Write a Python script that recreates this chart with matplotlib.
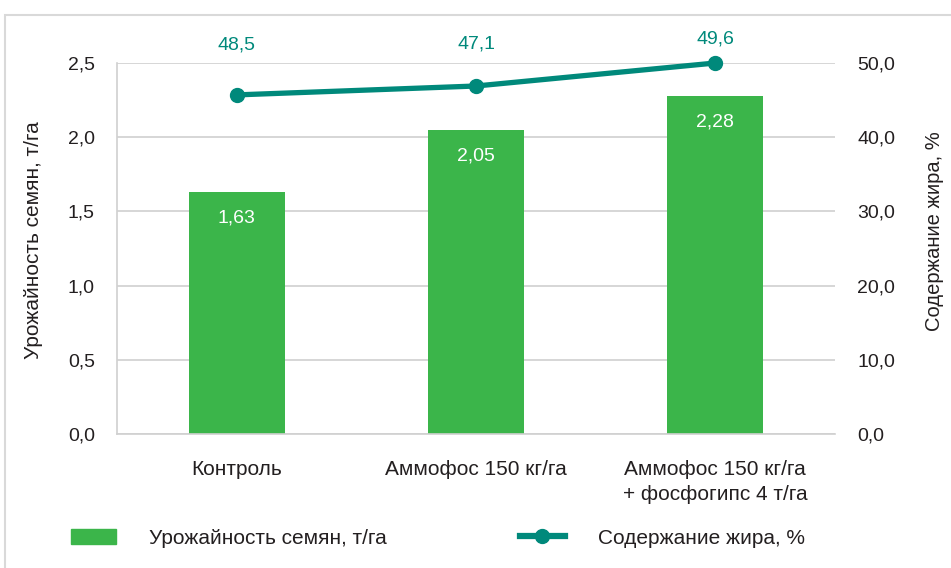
import matplotlib.pyplot as plt
from matplotlib.patches import Rectangle
from matplotlib.lines import Line2D

plt.rcParams['font.family'] = ['Liberation Sans', 'DejaVu Sans']

categories = ['Контроль', 'Аммофос 150 кг/га', 'Аммофос 150 кг/га\n+ фосфогипс 4 т/га']
yield_vals = [1.63, 2.05, 2.28]
yield_labels = ['1,63', '2,05', '2,28']
# line points as drawn in the picture (labels differ from the drawn heights)
fat_vals = [45.7, 46.9, 50.0]
fat_labels = ['48,5', '47,1', '49,6']
left_ticks = [0.0, 0.5, 1.0, 1.5, 2.0, 2.5]
right_ticks = [0, 10, 20, 30, 40, 50]

green = '#3bb54a'
teal = '#00897b'
dark = '#231f20'
grid = '#d0d0d0'

fig = plt.figure(figsize=(9.51, 5.68), dpi=100)
# outer frame
fig.add_artist(Rectangle((5/951, -0.1), 1.1, 1 - 15/568 + 0.1, transform=fig.transFigure,
                         fill=False, edgecolor='#d9d9d9', lw=1.5))

ax = fig.add_axes([117/951, 1 - 434/568, 718/951, 371/568])
x = range(len(categories))
ax.bar(x, yield_vals, width=0.4, color=green, zorder=2)
for i, (v, lab) in enumerate(zip(yield_vals, yield_labels)):
    ax.annotate(lab, (i, v), xytext=(0, -19), textcoords='offset points',
                ha='center', va='center', color='white', fontsize=14)

ax.set_xlim(-0.5, 2.5)
ax.set_ylim(0, 2.5)
ax.set_yticks(left_ticks)
ax.set_yticklabels([f'{t:.1f}'.replace('.', ',') for t in left_ticks], fontsize=14, color=dark)
ax.yaxis.grid(True, color=grid, lw=1.2, zorder=0)
ax.set_xticks(list(x))
ax.set_xticklabels(categories, fontsize=15, color=dark, va='top', linespacing=1.4)
ax.tick_params(axis='x', length=0, pad=19)
ax.tick_params(axis='y', length=0, pad=16)
for s in ['top', 'right']:
    ax.spines[s].set_visible(False)
for s in ['left', 'bottom']:
    ax.spines[s].set_color(grid)
    ax.spines[s].set_linewidth(1.2)
ax.set_ylabel('Урожайность семян, т/га', fontsize=15, color=dark)
ax.yaxis.set_label_coords(-0.103, 0.523)

ax2 = ax.twinx()
ax2.plot(x, fat_vals, color=teal, lw=3.8, marker='o', ms=10, zorder=3, clip_on=False)
offsets = [36, 30, 17]
for i, (v, lab, off) in enumerate(zip(fat_vals, fat_labels, offsets)):
    ax2.annotate(lab, (i, v), xytext=(0, off), textcoords='offset points',
                 ha='center', va='center', color=teal, fontsize=14)
ax2.set_ylim(0, 50)
ax2.set_yticks(right_ticks)
ax2.set_yticklabels([f'{t:.1f}'.replace('.', ',') for t in right_ticks], fontsize=14, color=dark)
ax2.tick_params(axis='y', length=0, pad=16)
for s in ax2.spines.values():
    s.set_visible(False)
ax2.set_ylabel('Содержание жира, %', fontsize=14.5, color=dark)
ax2.yaxis.set_label_coords(1.125, 0.547)

handles = [Rectangle((0, 0), 1, 1, color=green),
           Line2D([], [], color=teal, lw=4.5, marker='o', ms=10)]
fig.legend(handles, ['Урожайность семян, т/га', 'Содержание жира, %'],
           loc='center left', bbox_to_anchor=(52/951, 1 - 538/568), ncol=2, frameon=False,
           fontsize=15, handlelength=2.15, handleheight=0.75, handletextpad=1.6,
           columnspacing=6.4, labelcolor=dark)

fig.savefig('out.png', dpi=100)
